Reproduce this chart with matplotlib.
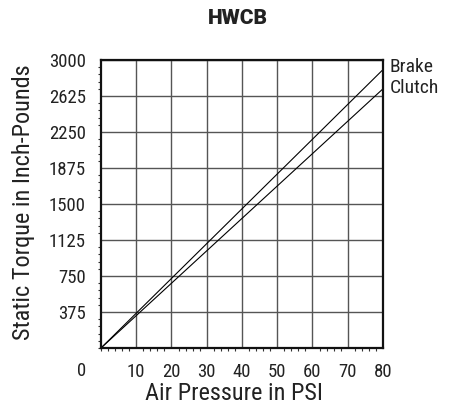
import matplotlib
matplotlib.use("Agg")
import matplotlib.pyplot as plt
from matplotlib.ticker import MultipleLocator

# Static torque vs. air pressure (linear from origin)
pressure_psi = [0, 80]
brake_torque = [0, 2900]
clutch_torque = [0, 2700]

x_ticks = [10, 20, 30, 40, 50, 60, 70, 80]
y_ticks = [375, 750, 1125, 1500, 1875, 2250, 2625, 3000]

plt.rcParams['font.family'] = ['Roboto Condensed', 'DejaVu Sans']
TXT = '#222222'

W, H = 452, 408
fig = plt.figure(figsize=(W / 100, H / 100), dpi=100)
ax = fig.add_axes([101 / W, 1 - 348 / H, 282 / W, 288 / H])

ax.set_xlim(0, 80)
ax.set_ylim(0, 3000)

ax.plot(pressure_psi, brake_torque, color='black', lw=0.8)
ax.plot(pressure_psi, clutch_torque, color='black', lw=0.8)

ax.set_xticks(x_ticks)
ax.set_yticks(y_ticks)
ax.set_xticklabels([str(v) for v in x_ticks])
ax.set_yticklabels([str(v) for v in y_ticks])
ax.xaxis.set_minor_locator(MultipleLocator(2))
ax.yaxis.set_minor_locator(MultipleLocator(75))
ax.tick_params(which='major', length=0, labelsize=13.5, pad=11, colors=TXT)
ax.tick_params(which='minor', length=2.5, width=0.8, direction='out', color='#333333')
ax.grid(True, which='major', color='#555555', lw=1.0)
for s in ax.spines.values():
    s.set_linewidth(1.6)
    s.set_color('#111111')

# shared origin label
fig.text(82 / W, 1 - 371 / H, '0', ha='center', va='center', fontsize=13.5, color=TXT)

fig.text(390 / W, 1 - 67 / H, 'Brake', ha='left', va='center', fontsize=14, color=TXT)
fig.text(390 / W, 1 - 88 / H, 'Clutch', ha='left', va='center', fontsize=14, color=TXT)

fig.text(234 / W, 1 - 393 / H, 'Air Pressure in PSI', ha='center', va='center',
         fontsize=17.5, color=TXT)
fig.text(24 / W, 1 - 202 / H, 'Static Torque in Inch-Pounds', ha='center', va='center',
         rotation=90, fontsize=17.5, color=TXT)

fig.text(238 / W, 1 - 19 / H, 'HWCB', ha='center', va='center',
         fontsize=15, fontweight='black', family=['Roboto', 'DejaVu Sans'], color=TXT)

fig.savefig('out.png', dpi=100)
